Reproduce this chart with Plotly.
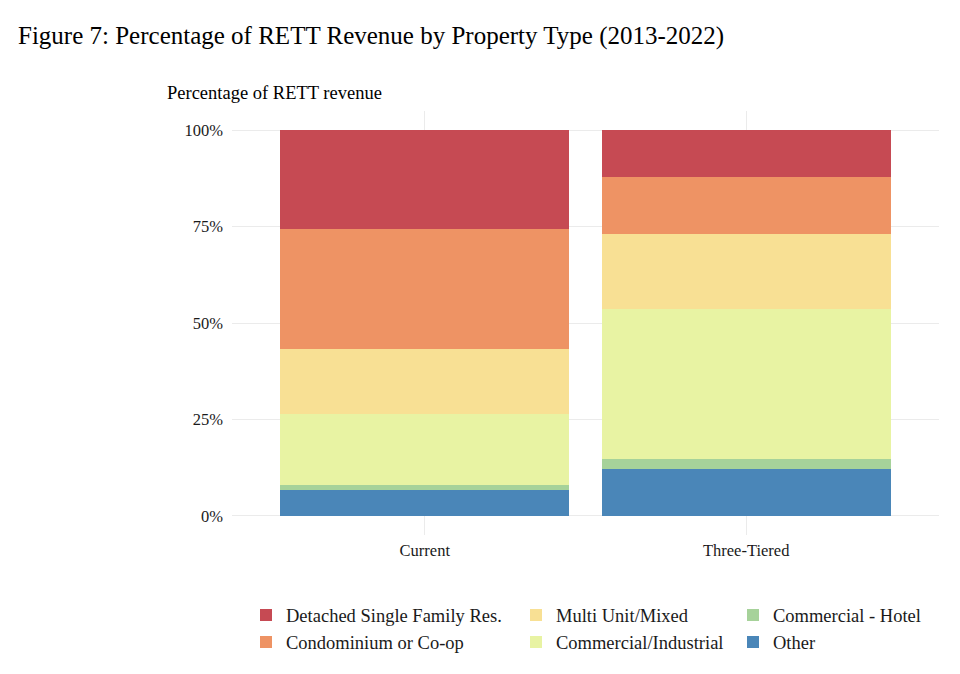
import plotly.graph_objects as go

# Data (percent of RETT revenue)
scenarios = ['Current', 'Three-Tiered']
other = [6.7, 12.1]
commercial_hotel = [1.3, 2.6]
commercial_industrial = [18.5, 39.0]
multi_unit = [16.7, 19.4]
condo = [31.2, 14.7]
detached = [25.6, 12.2]

tick_vals = [0, 25, 50, 75, 100]
tick_text = ['0%', '25%', '50%', '75%', '100%']

FONT = 'Liberation Serif'

# page has an 8px body margin, so the figure is drawn 8px smaller
W, H = 952, 666
L, R, T, B = 224, 21, 103, 139
PW = W - L - R
PH = H - T - B

# stacked from the bottom up; each legend column is its own legend
series = [
    ('Other', other, '#4A86B8', 'legend3'),
    ('Commercial - Hotel', commercial_hotel, '#A6D29A', 'legend3'),
    ('Commercial/Industrial', commercial_industrial, '#E8F3A3', 'legend2'),
    ('Multi Unit/Mixed', multi_unit, '#F8E094', 'legend2'),
    ('Condominium or Co-op', condo, '#EE9364', 'legend'),
    ('Detached Single Family Res.', detached, '#C64A53', 'legend'),
]

traces = []
for name, vals, col, leg in series:
    traces.append(go.Bar(x=scenarios, y=vals, name=name, width=0.9,
                         marker={'color': col, 'line': {'width': 0}},
                         legend=leg))

fig = go.Figure(data=traces)

leg_common = dict(orientation='v', traceorder='reversed', yanchor='top', y=-0.145,
                  font=dict(family=FONT, size=18.5, color='#1a1a1a'),
                  bgcolor='rgba(0,0,0,0)', tracegroupgap=0, itemwidth=30)

fig.update_layout(
    width=W, height=H,
    barmode='stack',
    plot_bgcolor='white', paper_bgcolor='white',
    margin=dict(l=L, r=R, t=T, b=B),
    font=dict(family=FONT, color='#1a1a1a'),
    title=dict(text='Figure 7: Percentage of RETT Revenue by Property Type (2013-2022)',
               x=10 / W, xanchor='left', y=1 - 27 / H, yanchor='middle',
               font=dict(family=FONT, size=25, color='#000000')),
    legend=dict(x=(238 - L) / PW, **leg_common),
    legend2=dict(x=(508 - L) / PW, **leg_common),
    legend3=dict(x=(725 - L) / PW, **leg_common),
    xaxis=dict(range=[-0.6, 1.6], showgrid=True, gridcolor='#EBEBEB', gridwidth=1,
               zeroline=False, showline=False, ticks='', ticklabelstandoff=3,
               tickfont=dict(family=FONT, size=16.5, color='#1a1a1a')),
    yaxis=dict(range=[-5, 105], tickvals=tick_vals, ticktext=tick_text,
               showgrid=True, gridcolor='#EBEBEB', gridwidth=1,
               zeroline=False, showline=False, ticks='',
               ticklabelstandoff=8,
               tickfont=dict(family=FONT, size=16.5, color='#1a1a1a')),
    annotations=[dict(text='Percentage of RETT revenue', xref='paper', yref='paper',
                      x=-(L - 157) / PW, y=(H - B - 85) / PH, xanchor='left',
                      yanchor='middle', showarrow=False,
                      font=dict(family=FONT, size=18.5, color='#000000'))],
)

fig.write_html('out.html')
